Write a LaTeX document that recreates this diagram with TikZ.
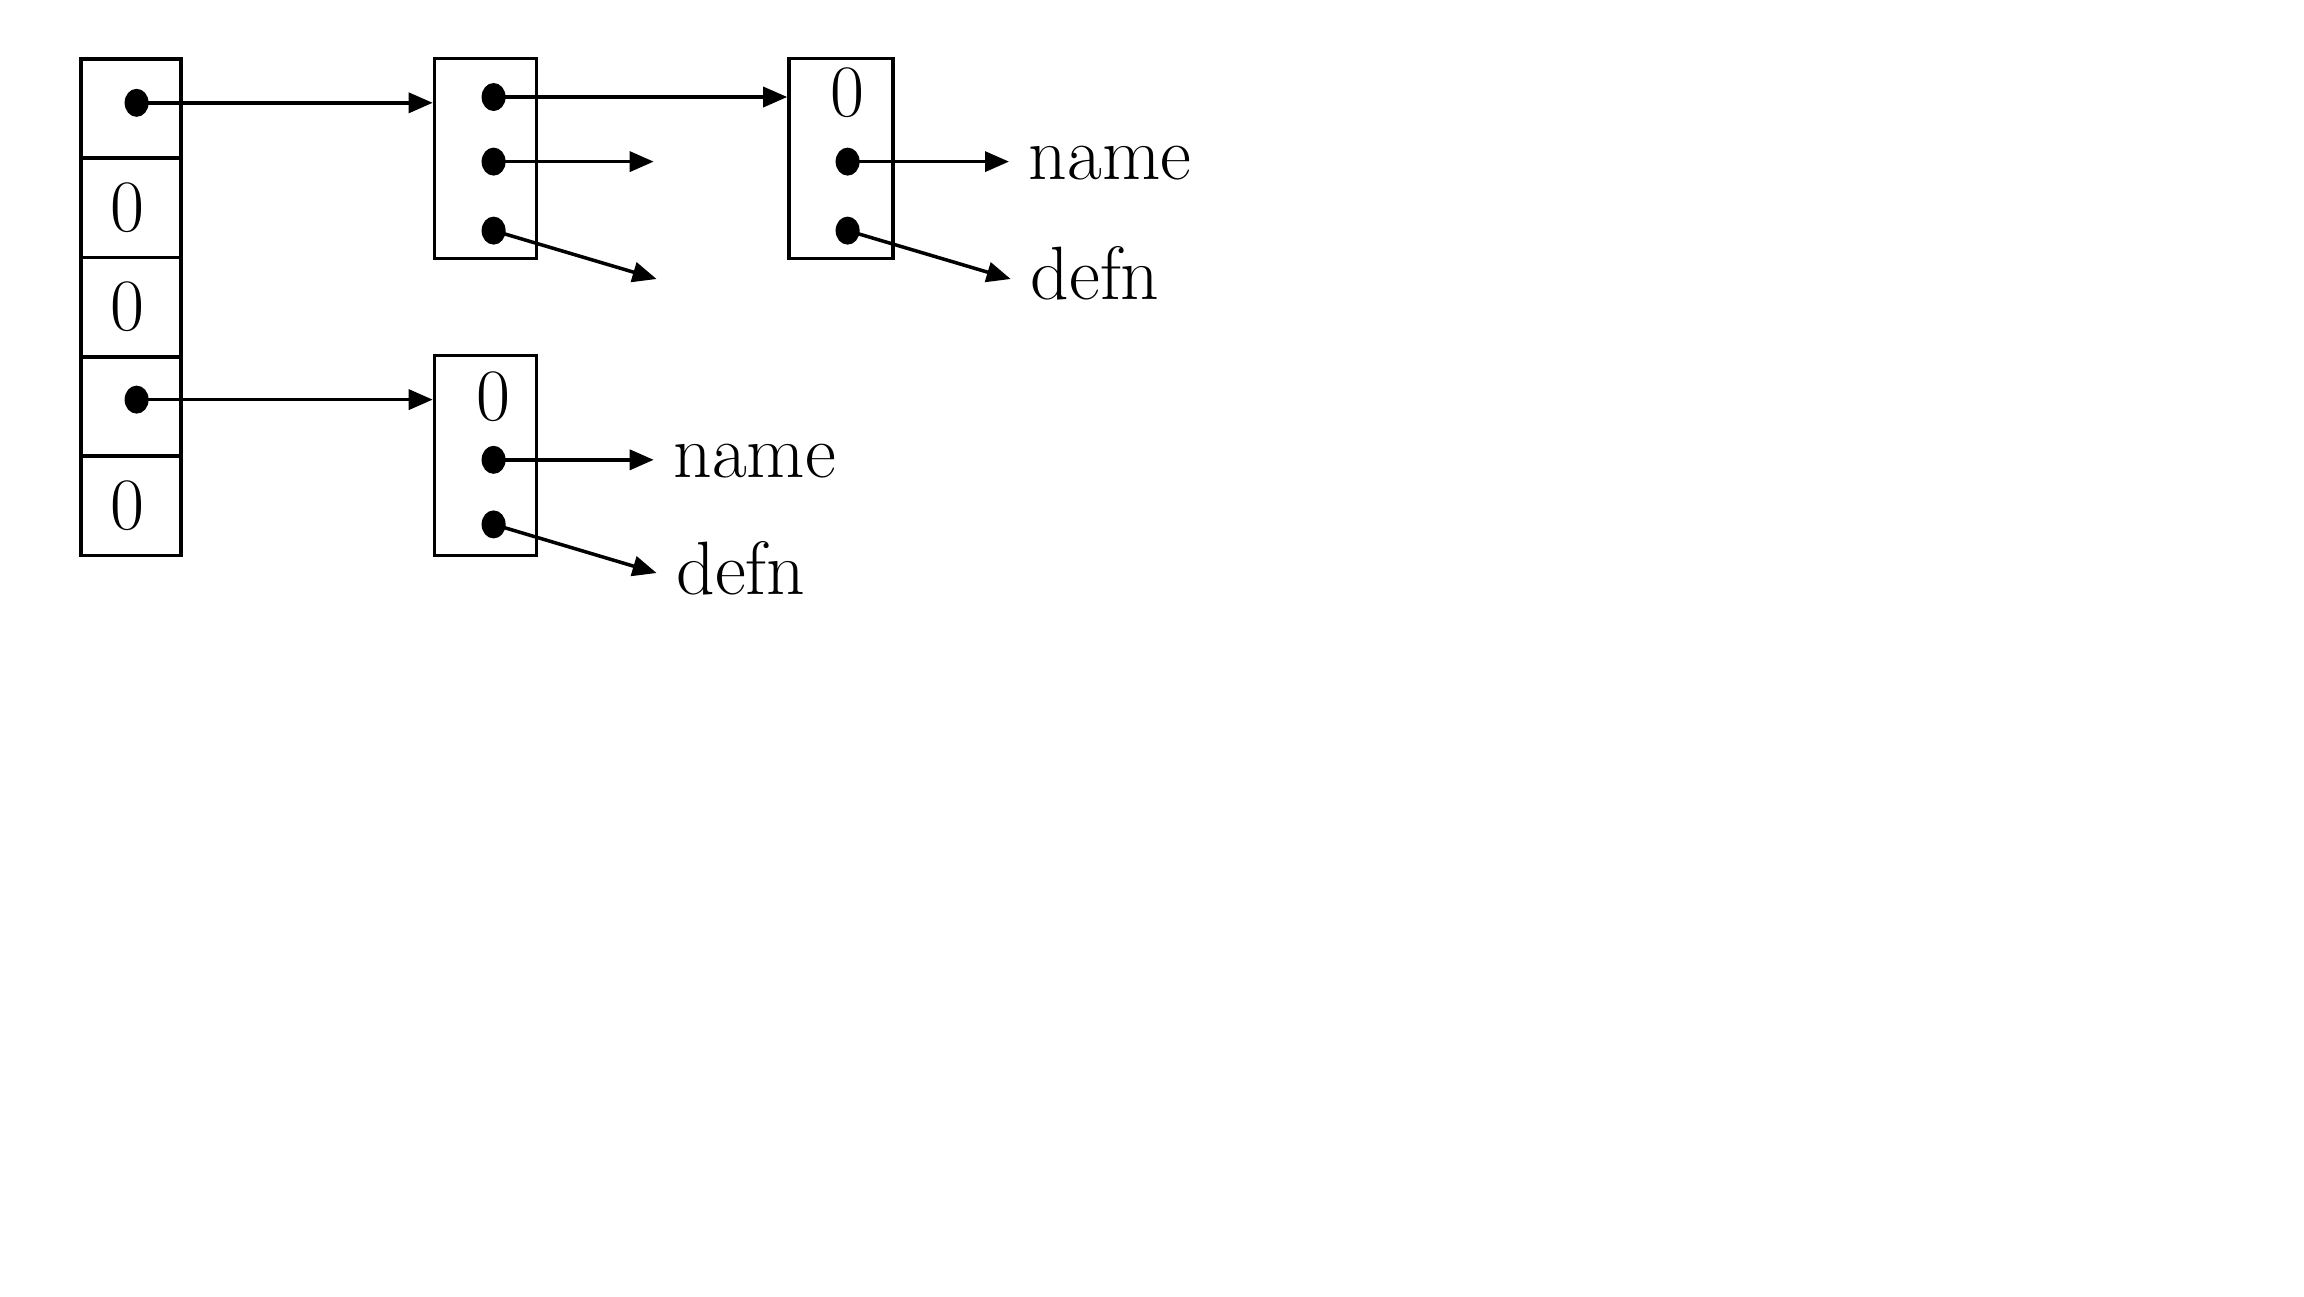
\documentclass[tikz,border=0pt]{standalone}
\usetikzlibrary{arrows.meta,shapes.geometric}
\begin{document}
\begin{tikzpicture}[x=0.01cm,y=-0.01cm,
 cell/.style={draw,line width=1pt,rectangle,minimum width=1cm,minimum height=0.993cm,inner sep=0pt,font=\fontsize{21}{24}\selectfont},
 rec/.style={draw,line width=1pt,rectangle,minimum width=1.02cm,minimum height=2cm,inner sep=0pt},
 dot/.style={ellipse,fill=black,minimum width=0.24cm,minimum height=0.28cm,inner sep=0pt},
 ptr/.style={line width=1pt,-{Triangle[length=0.24cm,width=0.2cm]}},
 lbl/.style={font=\fontsize{21.5}{24}\selectfont,inner sep=0pt,anchor=mid west},
 zero/.style={font=\fontsize{21}{24}\selectfont,inner sep=0pt}]
\useasboundingbox (0,0) rectangle (2304,1296);
% left array
\node[cell] (c0) at (131,108.5) {};
\node[cell] (c1) at (131,207.8) {\hspace*{-0.07cm}0};
\node[cell] (c2) at (131,307.1) {\hspace*{-0.07cm}0};
\node[cell] (c3) at (131,406.4) {};
\node[cell] (c4) at (131,505.7) {\hspace*{-0.07cm}0};
\node[dot] (l0) at (136.6,102.8) {};
\node[dot] (l3) at (136.6,399.6) {};
% boxes
\node[rec] (A) at (485.5,158.6) {};
\node[rec,minimum width=1.04cm] (B) at (841,158.6) {};
\node[rec] (C) at (485.5,455.4) {};
\node[zero] (bz) at (847.6,93) {0};
\node[zero] (cz) at (493.6,397) {0};
\node[dot] (a1) at (493.6,97) {};
\node[dot] (a2) at (493.6,161.6) {};
\node[dot] (a3) at (493.6,230.6) {};
\node[dot] (b2) at (847.6,161.6) {};
\node[dot] (b3) at (847.6,230.6) {};
\node[dot] (k2) at (493.6,459.8) {};
\node[dot] (k3) at (493.6,524.4) {};
% labels
\node[lbl] (nb) at (1028,172) {name};
\node[lbl] (db) at (1030,292) {defn};
\node[lbl] (nc) at (672.8,470) {name};
\node[lbl] (dc) at (675.7,587) {defn};
% free ends
\coordinate (ea2) at (653.7,161.6);
\coordinate (ea3) at (656.6,279);
\coordinate (eb2) at (1009,161.6);
\coordinate (eb3) at (1010.7,279);
\coordinate (ek2) at (653.7,459.8);
\coordinate (ek3) at (656.6,573);
% pointers
\draw[ptr] (l0.center) -- (l0 -| A.west);
\draw[ptr] (l3.center) -- (l3 -| C.west);
\draw[ptr] (a1.center) -- (a1 -| B.west);
\draw[ptr] (a2.center) -- (ea2);
\draw[ptr] (a3.center) -- (ea3);
\draw[ptr] (b2.center) -- (eb2);
\draw[ptr] (b3.center) -- (eb3);
\draw[ptr] (k2.center) -- (ek2);
\draw[ptr] (k3.center) -- (ek3);
\end{tikzpicture}
\end{document}
